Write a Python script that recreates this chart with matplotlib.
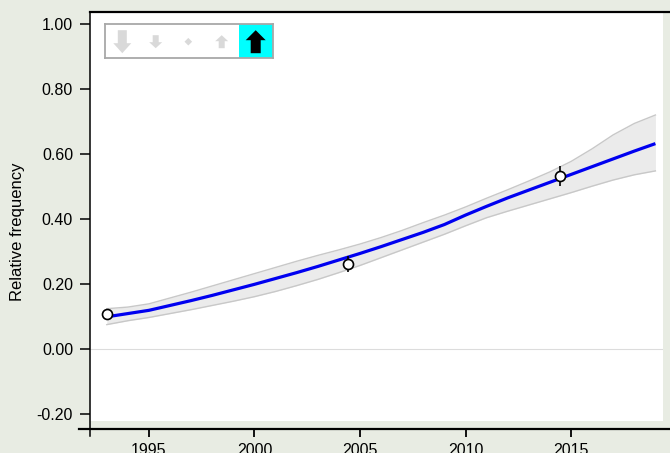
import matplotlib
matplotlib.use("Agg")
import matplotlib.pyplot as plt
import numpy as np
from matplotlib.patches import Polygon, Rectangle

plt.rcParams['font.family'] = ['Liberation Sans', 'DejaVu Sans']

# ---- data ----
years = list(range(1993, 2020))
trend = [0.100, 0.110, 0.120, 0.135, 0.150, 0.166, 0.183, 0.200, 0.218, 0.236,
         0.255, 0.275, 0.295, 0.316, 0.338, 0.360, 0.384, 0.413, 0.440, 0.466,
         0.490, 0.514, 0.538, 0.562, 0.586, 0.610, 0.633]
band_upper = [0.125, 0.130, 0.140, 0.158, 0.176, 0.195, 0.214, 0.233, 0.252, 0.271,
              0.289, 0.306, 0.324, 0.344, 0.366, 0.390, 0.413, 0.438, 0.465, 0.491,
              0.518, 0.546, 0.578, 0.617, 0.660, 0.695, 0.721]
band_lower = [0.076, 0.088, 0.098, 0.110, 0.122, 0.135, 0.148, 0.162, 0.178, 0.196,
              0.215, 0.236, 0.258, 0.282, 0.306, 0.330, 0.354, 0.380, 0.405, 0.425,
              0.444, 0.463, 0.482, 0.502, 0.521, 0.537, 0.549]
obs_years = [1993.0, 2004.45, 2014.5]
obs_values = [0.110, 0.262, 0.533]
obs_err = [0.0, 0.025, 0.030]
yticks = [-0.2, 0.0, 0.2, 0.4, 0.6, 0.8, 1.0]
xticks = [1995, 2000, 2005, 2010, 2015]
ylabel = "Relative frequency"

W, H = 670, 453
bg = '#e8ece3'
fig = plt.figure(figsize=(W / 100, H / 100), dpi=100, facecolor=bg)

def fx(px):
    return px / W

def fy(py):
    return (H - py) / H

ax = fig.add_axes([fx(90), fy(421), fx(663) - fx(90), fy(12) - fy(421)])
ax.set_facecolor('white')
ax.set_xlim(1992.204, 2019.36)
ax.set_ylim(-0.2206, 1.038)

ax.axhline(0.0, color='#dcdcdc', lw=0.8, zorder=1)

ax.fill_between(years, band_lower, band_upper, color='#ebebeb', lw=0, zorder=2)
ax.plot(years, band_upper, color='#c8c8c8', lw=1.0, zorder=3)
ax.plot(years, band_lower, color='#c8c8c8', lw=1.0, zorder=3)
ax.plot(years, trend, color='#0000f0', lw=2.3, zorder=4, solid_capstyle='butt')
ax.errorbar(obs_years, obs_values, yerr=obs_err, fmt='none', ecolor='black',
            elinewidth=1.2, capsize=0, zorder=5)
ax.plot(obs_years, obs_values, 'o', ms=7.2, mfc='white', mec='black', mew=1.2, zorder=6)

# spines
px = 1 / 1.389
ax.spines['right'].set_visible(False)
ax.spines['left'].set_linewidth(1.1)
ax.spines['left'].set_bounds(-0.268, 1.038)
ax.spines['top'].set_linewidth(1.6)
ax.spines['top'].set_bounds(1992.204, 2019.69)
ax.spines['bottom'].set_position(('outward', 8 * px))
ax.spines['bottom'].set_linewidth(1.6)
ax.spines['bottom'].set_bounds(1991.68, 2019.69)

ax.set_yticks(yticks)
ax.set_yticklabels([f"{v:.2f}" for v in yticks])
ax.set_xticks(xticks)
ax.set_xticklabels([str(v) for v in xticks])
ax.tick_params(axis='y', direction='out', length=10 * px, width=1.1, labelsize=11.5, pad=7 * px)
ax.tick_params(axis='x', direction='out', length=8 * px, width=1.3, labelsize=11.5, pad=6 * px)

fig.text(fx(18), fy(232), ylabel, rotation=90, ha='center', va='center', fontsize=12)

# legend-like icon box
lx0, lx1, ly0, ly1 = 105, 272.7, 24.3, 58.3
lax = fig.add_axes([fx(lx0), fy(ly1), fx(lx1) - fx(lx0), fy(ly0) - fy(ly1)])
lw_, lh_ = lx1 - lx0, ly1 - ly0
lax.set_xlim(0, lw_)
lax.set_ylim(lh_, 0)
lax.set_facecolor('white')
for s in lax.spines.values():
    s.set_color('#a8a8a8')
    s.set_linewidth(1.3)
lax.set_xticks([])
lax.set_yticks([])
lax.add_patch(Rectangle((134.3, 0), lw_ - 134.3, lh_, color='#00ffff', lw=0))

def arrow(cx, cy, h, hw, sw, hh, up, color):
    t, b = cy - h / 2, cy + h / 2
    if up:
        pts = [(cx, t), (cx + hw / 2, t + hh), (cx + sw / 2, t + hh), (cx + sw / 2, b),
               (cx - sw / 2, b), (cx - sw / 2, t + hh), (cx - hw / 2, t + hh)]
    else:
        pts = [(cx, b), (cx + hw / 2, b - hh), (cx + sw / 2, b - hh), (cx + sw / 2, t),
               (cx - sw / 2, t), (cx - sw / 2, b - hh), (cx - hw / 2, b - hh)]
    lax.add_patch(Polygon(pts, closed=True, color=color, lw=0))

gray = '#d9d9d9'
cy = 17.4
arrow(17.3, cy, 23, 18, 9, 10, False, gray)
arrow(50.7, cy, 13, 13, 6, 6, False, gray)
lax.add_patch(Polygon([(83.3, cy - 3.8), (87.1, cy), (83.3, cy + 3.8), (79.5, cy)],
                      closed=True, color=gray, lw=0))
arrow(116.7, cy, 13, 13, 6, 6, True, gray)
arrow(150.7, cy, 23, 20, 10, 10, True, 'black')

fig.savefig('out.png', dpi=100, facecolor=bg)
